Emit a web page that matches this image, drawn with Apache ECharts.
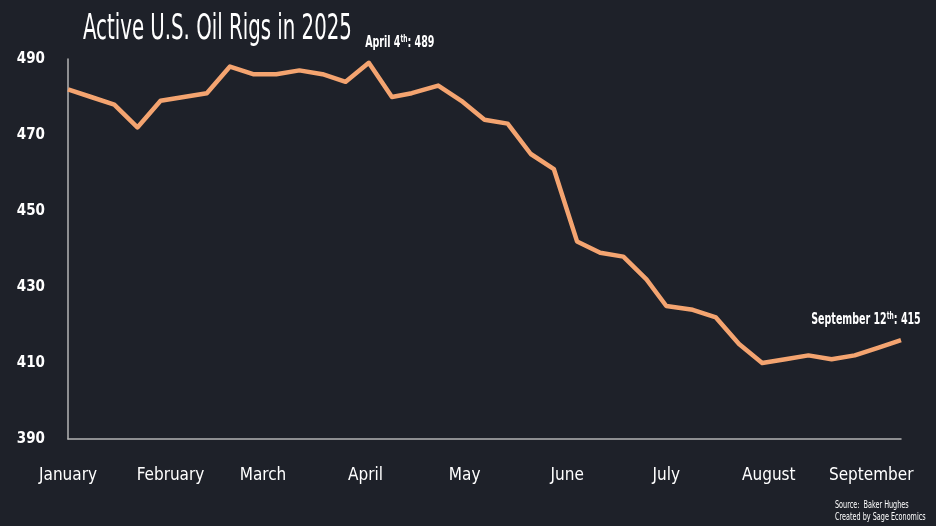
<!DOCTYPE html>
<html>
<head>
<meta charset="utf-8">
<script src="https://cdn.jsdelivr.net/npm/echarts@6/dist/echarts.min.js"></script>
<style>
html,body{margin:0;padding:0;background:#1e2129;}
#chart{width:936px;height:526px;}
</style>
</head>
<body>
<div id="chart"></div>
<script>
const weekDates = ["2025-01-03","2025-01-10","2025-01-17","2025-01-24","2025-01-31","2025-02-07","2025-02-14","2025-02-21","2025-02-28","2025-03-07","2025-03-14","2025-03-21","2025-03-28","2025-04-04","2025-04-11","2025-04-17","2025-04-25","2025-05-02","2025-05-09","2025-05-16","2025-05-23","2025-05-30","2025-06-06","2025-06-13","2025-06-20","2025-06-27","2025-07-03","2025-07-11","2025-07-18","2025-07-25","2025-08-01","2025-08-08","2025-08-15","2025-08-22","2025-08-29","2025-09-05","2025-09-12"];
const rigCounts = [482,480,478,472,479,480,481,488,486,486,487,486,484,489,480,481,483,479,474,473,465,461,442,439,438,432,425,424,422,415,410,411,412,411,412,414,416];
const monthNames = ["January","February","March","April","May","June","July","August","September"];
const yTicks = [390,410,430,450,470,490];
const annotations = [
  {date:"2025-04-04", value:489, label:"April 4", sup:"th", tail:": 489", dx:31, dy:-20},
  {date:"2025-09-12", value:416, label:"September 12", sup:"th", tail:": 415", dx:-35, dy:-20}
];
const titleText = "Active U.S. Oil Rigs in 2025";
const sourceLines = ["Source:  Baker Hughes","Created by Sage Economics"];

// daily category axis between first and last week
const days = [];
{
  const s = new Date(weekDates[0]+"T00:00:00Z");
  const e = new Date(weekDates[weekDates.length-1]+"T00:00:00Z");
  for (let d = new Date(s); d <= e; d.setUTCDate(d.getUTCDate()+1)) {
    days.push(d.toISOString().slice(0,10));
  }
}
const FONT = '"DejaVu Sans Condensed","Liberation Sans Narrow",sans-serif';
const NARROW = 0.66;

const chart = echarts.init(document.getElementById('chart'));
chart.setOption({
  backgroundColor:'#1e2129',
  animation:false,
  grid:{left:68, right:35, top:59, bottom:87},
  xAxis:{
    type:'category', data:days, boundaryGap:false,
    axisLine:{show:true, lineStyle:{color:'#b4b4b4', width:1.5}},
    axisTick:{show:false},
    axisLabel:{
      interval:function(i,v){ return v.slice(8,10)==='03'; },
      formatter:function(v){ return monthNames[parseInt(v.slice(5,7),10)-1]; },
      color:'#ffffff', fontFamily:FONT, fontSize:17, margin:28
    },
    splitLine:{show:false}
  },
  yAxis:{
    type:'value', min:yTicks[0], max:yTicks[yTicks.length-1], interval:20,
    axisLine:{show:true, lineStyle:{color:'#b4b4b4', width:1.5}},
    axisTick:{show:false},
    splitLine:{show:false},
    axisLabel:{color:'#ffffff', fontFamily:FONT, fontSize:15, fontWeight:'bold', margin:23}
  },
  series:[{
    type:'line',
    data:weekDates.map((d,i)=>[d,rigCounts[i]]),
    showSymbol:false,
    lineStyle:{color:'#f4a470', width:4.5, join:'round'},
    itemStyle:{color:'#f4a470'}
  }]
});

const graphics = [
  {
    type:'text', x:83, y:30, scaleX:0.61,
    style:{text:titleText, fill:'#ffffff', fontFamily:FONT, fontSize:36, fontWeight:'normal',
           textAlign:'left', textVerticalAlign:'middle'}
  },
  {
    type:'text', x:835, y:499, scaleX:0.72,
    style:{text:sourceLines.join('\n'), fill:'#ffffff', fontFamily:FONT, fontSize:10, lineHeight:12,
           textAlign:'left', textVerticalAlign:'top'}
  }
];
annotations.forEach(a=>{
  const p = chart.convertToPixel({seriesIndex:0}, [a.date, a.value]);
  graphics.push({
    type:'text', x:p[0]+a.dx, y:p[1]+a.dy, scaleX:NARROW,
    style:{
      text:'{b|'+a.label+'}{s|'+a.sup+'}{b|'+a.tail+'}',
      textAlign:'center', textVerticalAlign:'middle',
      rich:{
        b:{fill:'#ffffff', fontFamily:FONT, fontSize:16, fontWeight:'bold'},
        s:{fill:'#ffffff', fontFamily:FONT, fontSize:10, fontWeight:'bold', verticalAlign:'top', padding:[0,0,7,0]}
      }
    }
  });
});
chart.setOption({graphic:graphics});
</script>
</body>
</html>
